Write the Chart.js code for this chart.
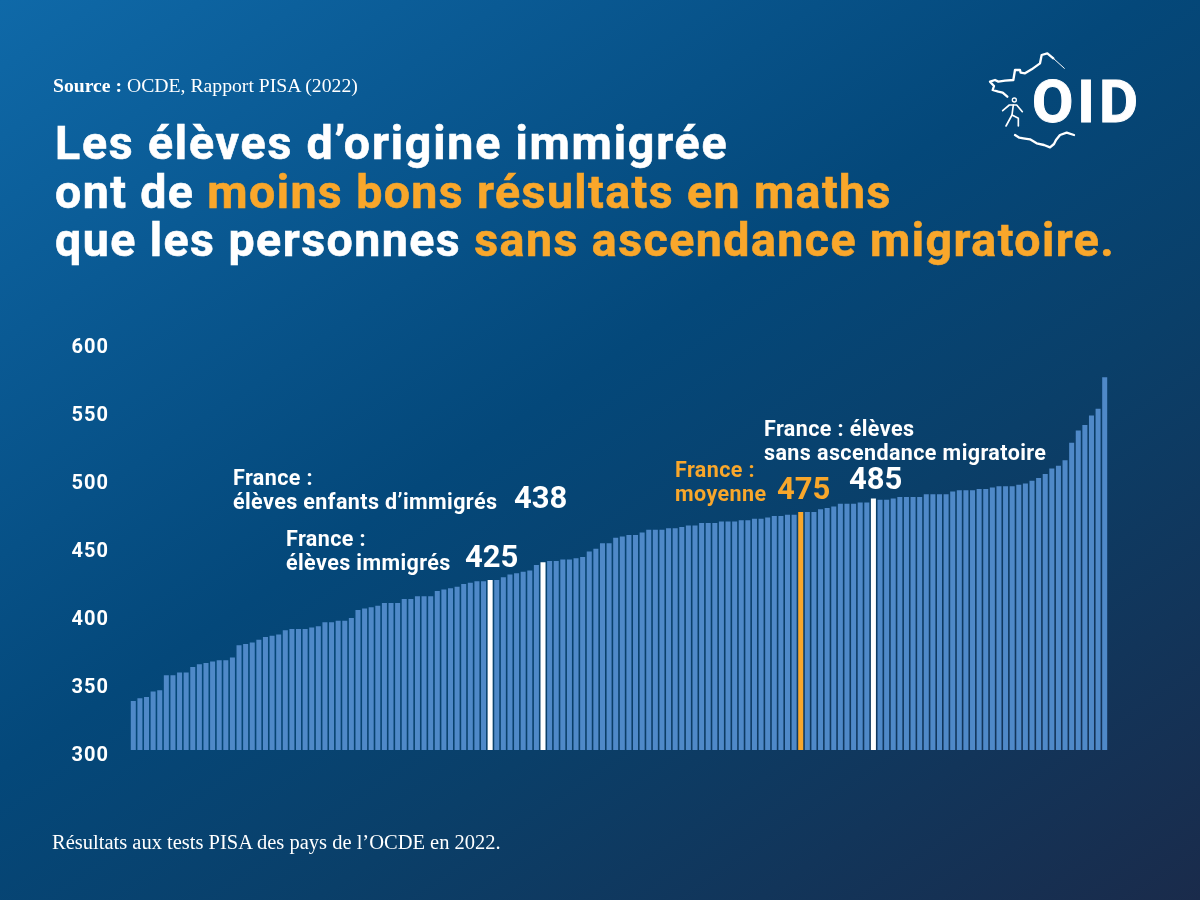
<!DOCTYPE html>
<html lang="fr">
<head>
<meta charset="utf-8">
<title>Résultats PISA 2022</title>
<script src="https://cdn.jsdelivr.net/npm/chart.js@4"></script>
<style>
html,body{margin:0;padding:0;width:1200px;height:900px;overflow:hidden}
#page{position:relative;width:1200px;height:900px;overflow:hidden;
 background:linear-gradient(146deg,#0f69a8 0%,#0a5a94 20%,#04487a 45%,#0a3f69 65%,#1a2b4b 100%);
 font-family:Roboto,sans-serif;color:#fff}
canvas{position:absolute;left:0;top:0}
.t{position:absolute;white-space:nowrap}
.serif{font-family:"Liberation Serif",serif}
.or{color:#f9a72b}
#title{left:55px;top:119px;font-size:46.5px;font-weight:700;line-height:48.5px;-webkit-text-stroke:.6px currentColor}
.lab{font-size:21.5px;font-weight:700;line-height:24px;letter-spacing:.4px}
.num{font-size:31px;font-weight:700;line-height:32px;letter-spacing:0}
#logo{position:absolute;left:970px;top:40px}
#oid{left:1032px;top:67px;font-size:60px;font-weight:700;line-height:70px;letter-spacing:4px;-webkit-text-stroke:1px #fff}
</style>
</head>
<body>
<div id="page">
<canvas id="c" width="1200" height="900"></canvas>
<div class="t serif" style="left:53px;top:74px;font-size:19.7px"><b>Source :</b> OCDE, Rapport PISA (2022)</div>
<div class="t" id="title"><span style="letter-spacing:1.8px">Les élèves d’origine immigrée</span><br><span style="letter-spacing:1.41px">ont de <span class="or">moins bons résultats en maths</span></span><br><span style="letter-spacing:1.46px">que les personnes <span class="or">sans ascendance migratoire.</span></span></div>
<svg id="logo" width="190" height="120" viewBox="0 0 570 360" fill="none" stroke="#fff" stroke-linejoin="round" stroke-linecap="round">
<polyline stroke-width="7" points="112,170 98,158 85,155 68,150 72,138 60,125 75,120 85,125 105,122 130,120 135,90 150,90 152,98 165,100 185,88 210,70 215,45 232,40 250,55"/>
<polyline stroke-width="3" points="250,55 283,85"/>
<polyline stroke-width="7" points="135,285 148,293 160,295 180,298 200,310 222,315 240,322 252,312 258,300 270,285 290,278 312,285"/>
<circle cx="133" cy="180" r="6" stroke-width="4"/>
<polyline stroke-width="5" points="98,212 118,195 140,195 157,215"/>
<polyline stroke-width="5" points="130,195 126,225 108,258"/>
<polyline stroke-width="5" points="126,225 145,235 145,258"/>
</svg>
<div class="t" id="oid">OID</div>
<div class="t lab" style="left:233px;top:466px">France :<br>élèves enfants d’immigrés</div>
<div class="t num" style="left:514px;top:482px">438</div>
<div class="t lab" style="left:286px;top:527px">France :<br>élèves immigrés</div>
<div class="t num" style="left:465px;top:541px">425</div>
<div class="t lab or" style="left:675px;top:458px">France :<br>moyenne</div>
<div class="t num or" style="left:777px;top:473px">475</div>
<div class="t lab" style="left:764px;top:417px">France : élèves<br>sans ascendance migratoire</div>
<div class="t num" style="left:849px;top:463px">485</div>
<div class="t serif" style="left:52px;top:831px;font-size:20.5px">Résultats aux tests PISA des pays de l’OCDE en 2022.</div>
</div>
<script>
const scores = [
 336,338,339,343,344,355,355,357,357,361,
 363,364,365,366,366,368,377,378,379,381,
 383,384,385,388,389,389,389,390,391,394,
 394,395,395,397,403,404,405,406,408,408,
 408,411,411,413,413,413,417,418,419,420,
 422,423,424,424,425,425,427,429,430,431,
 432,436,438,439,439,440,440,441,442,446,
 448,452,452,456,457,458,458,460,462,462,
 462,463,463,464,465,465,467,467,467,468,
 468,468,469,469,470,470,471,472,472,473,
 473,475,475,475,477,478,479,481,481,481,
 482,482,485,484,484,485,486,486,486,486,
 488,488,488,488,490,491,491,491,492,492,
 493,494,494,494,495,496,498,500,503,507,
 509,513,526,535,539,546,551,574
];
const ranks = scores.map((_, i) => i + 1);
const whiteRanks = [55, 63, 113];
const orangeRanks = [102];
const barColor = '#4f89c8';
const yMin = 300, yMax = 600, yStep = 50;
const colors = ranks.map(r => whiteRanks.includes(r) ? '#ffffff' : orangeRanks.includes(r) ? '#f9a72b' : barColor);

new Chart(document.getElementById('c'), {
  type: 'bar',
  data: { labels: ranks, datasets: [{ data: scores, backgroundColor: colors, borderWidth: 0,
    barPercentage: 1, categoryPercentage: 0.76 }] },
  options: {
    responsive: false, animation: false, devicePixelRatio: 1,
    layout: { padding: { top: 342, right: 92, bottom: 150, left: 0 } },
    plugins: { legend: { display: false }, tooltip: { enabled: false }, title: { display: false } },
    scales: {
      x: { display: false, grid: { display: false } },
      y: {
        min: yMin, max: yMax,
        afterFit(s) { s.width = 130; },
        grid: { display: false, drawTicks: false }, border: { display: false },
        ticks: { stepSize: yStep, color: '#fff', padding: 21, labelOffset: 5.5,
          font: { family: 'Roboto', size: 20, weight: '700' } }
      }
    }
  },
  plugins: [{ id: 'tickSpacing', beforeDraw(chart) { chart.ctx.letterSpacing = '1px'; } }]
});
</script>
</body>
</html>
